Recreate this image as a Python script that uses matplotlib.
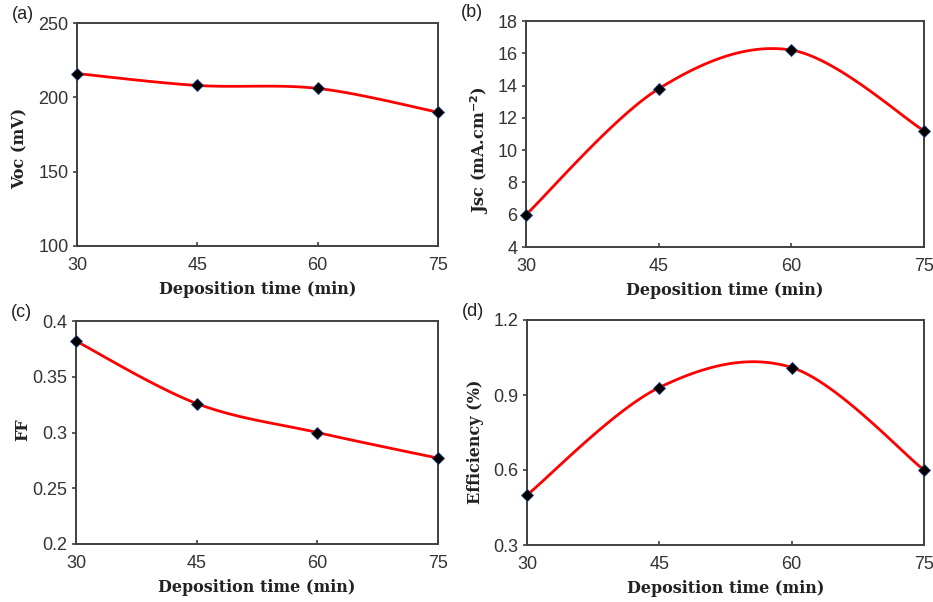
import numpy as np
import matplotlib
matplotlib.use("Agg")
import matplotlib.pyplot as plt

# deposition times (min)
czas = [30, 45, 60, 75]

# photovoltaic parameters for each deposition time
voc = [216, 208, 206, 190]          # mV
jsc = [6.0, 13.8, 16.2, 11.2]       # mA.cm-2
ff = [0.382, 0.326, 0.300, 0.277]
eff = [0.50, 0.93, 1.01, 0.60]      # %

x_ticks = [30, 45, 60, 75]


def gladka_linia(x, y, n=40):
    # wygladzona linia jak w Excelu (krzywe Beziera, Catmull-Rom)
    x = np.asarray(x, float)
    y = np.asarray(y, float)
    pts = np.column_stack([x, y])
    out = []
    t = np.linspace(0, 1, n)
    for i in range(len(pts) - 1):
        p0 = pts[max(i - 1, 0)]
        p1 = pts[i]
        p2 = pts[i + 1]
        p3 = pts[min(i + 2, len(pts) - 1)]
        c1 = p1 + (p2 - p0) / 6
        c2 = p2 - (p3 - p1) / 6
        seg = ((1 - t) ** 3)[:, None] * p1 + (3 * (1 - t) ** 2 * t)[:, None] * c1 \
            + (3 * (1 - t) * t ** 2)[:, None] * c2 + (t ** 3)[:, None] * p2
        out.append(seg if i == 0 else seg[1:])
    out = np.vstack(out)
    return out[:, 0], out[:, 1]


fig = plt.figure(figsize=(9.33, 6.02), dpi=100)

# pozycje osi w pikselach (lewo, prawo, gora, dol) + srodek podpisu osi y (x, y)
panele = [
    (77, 438, 23, 246, (20, 148), voc, (100, 250), [100, 150, 200, 250], "Voc (mV)", "(a)", "{:g}"),
    (526, 924, 21, 247, (480, 150), jsc, (4, 18), [4, 6, 8, 10, 12, 14, 16, 18], "Jsc (mA.cm$^{\\mathbf{-2}}$)", "(b)", "{:g}"),
    (76, 438, 321, 544, (23, 430), ff, (0.2, 0.4), [0.2, 0.25, 0.3, 0.35, 0.4], "FF", "(c)", "{:g}"),
    (527, 924, 320, 545, (475, 442), eff, (0.3, 1.2), [0.3, 0.6, 0.9, 1.2], "Efficiency (%)", "(d)", "{:.1f}"),
]

W, H = 933, 602
szary = "#404040"

for l, r, t, b, (yx, yy), dane, ylim, yt, ylab, lit, fmt in panele:
    ax = fig.add_axes([l / W, 1 - b / H, (r - l) / W, (b - t) / H])
    xs, ys = gladka_linia(czas, dane)
    ax.plot(xs, ys, color="#ff0000", lw=2, zorder=2, clip_on=False)
    ax.plot(czas, dane, ls="none", marker="D", ms=6.5, mfc="black",
            mec="#1f3f7f", mew=0.6, zorder=3, clip_on=False)
    ax.set_xlim(30, 75)
    ax.set_ylim(*ylim)
    ax.set_xticks(x_ticks)
    ax.set_yticks(yt)
    ax.set_yticklabels([fmt.format(v) for v in yt])
    for s in ax.spines.values():
        s.set_color(szary)
        s.set_linewidth(1.4)
    ax.tick_params(axis="x", direction="in", length=3, width=1.2, color=szary,
                   labelsize=13, labelcolor="#333333", pad=8)
    ax.tick_params(axis="y", direction="out", length=3, width=1.2, color=szary,
                   labelsize=13, labelcolor="#333333", pad=3)
    for lab in ax.get_xticklabels() + ax.get_yticklabels():
        lab.set_fontfamily("Liberation Sans")
    ax.set_xlabel("Deposition time (min)", fontfamily="DejaVu Serif",
                  fontweight="bold", fontsize=11.5, color="#222222", labelpad=5)
    ax.set_ylabel(ylab, fontfamily="DejaVu Serif", fontweight="bold",
                  fontsize=11.5, color="#222222", va="center")
    ax.yaxis.set_label_coords((yx - l) / (r - l), (b - yy) / (b - t))
    fig.text((l - 65) / W, 1 - (t - 17) / H, lit, fontfamily="Liberation Sans",
             fontsize=13, color="#222222", va="top", ha="left")

fig.savefig("out.png", dpi=100)
